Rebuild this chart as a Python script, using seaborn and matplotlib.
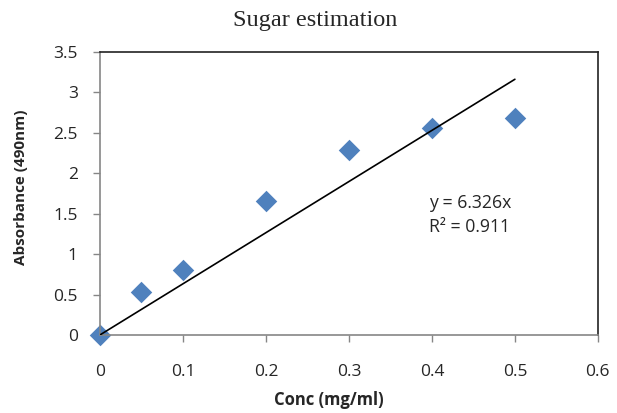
import matplotlib
matplotlib.use("Agg")
import matplotlib.pyplot as plt
import seaborn as sns
import numpy as np
import pandas as pd

# Standard curve readings
conc = [0.0, 0.05, 0.1, 0.2, 0.3, 0.4, 0.5]
absorbance = [0.0, 0.53, 0.80, 1.66, 2.29, 2.56, 2.68]
slope = 6.326
r_squared = 0.911
x_ticks = [0, 0.1, 0.2, 0.3, 0.4, 0.5, 0.6]
y_ticks = [0, 0.5, 1, 1.5, 2, 2.5, 3, 3.5]
y_tick_labels = ["0", "0.5", "1", "1.5", "2", "2.5", "3", "3.5"]

sns.set_theme(style="white")
plt.rcParams["font.family"] = ["Open Sans", "DejaVu Sans"]

fig = plt.figure(figsize=(6.17, 4.13), dpi=100)
ax = fig.add_axes([0.162, 0.189, 0.807, 0.685])

df = pd.DataFrame({"conc": conc, "abs": absorbance})
sns.scatterplot(data=df, x="conc", y="abs", marker="D", s=120, color="#4F81BD",
                edgecolor="#4F81BD", linewidth=0, ax=ax, zorder=2, clip_on=False)

# Linear trendline through the origin
fit_x = np.array([0.0, max(conc)])
sns.lineplot(x=fit_x, y=slope * fit_x, color="black", linewidth=1.2, ax=ax, zorder=3)

ax.set_xlim(0, 0.6)
ax.set_ylim(0, 3.5)
ax.set_xticks(x_ticks)
ax.set_xticklabels([f"{v:g}" for v in x_ticks])
ax.set_yticks(y_ticks)
ax.set_yticklabels(y_tick_labels)
ax.tick_params(axis="both", which="major", labelsize=12.5, length=5, width=1,
               color="#868686", direction="out", bottom=True, left=True)
ax.tick_params(axis="x", pad=16)
ax.tick_params(axis="y", pad=11)

for side in ("left", "bottom"):
    ax.spines[side].set_color("#868686")
    ax.spines[side].set_linewidth(1.2)
for side in ("top", "right"):
    ax.spines[side].set_color("#222222")
    ax.spines[side].set_linewidth(1.2)

ax.set_xlabel("Conc (mg/ml)", fontsize=12, fontweight="bold")
ax.set_ylabel("Absorbance (490nm)", fontsize=11, fontweight="bold")
ax.xaxis.set_label_coords(0.46, -0.23)
ax.xaxis.label.set_va("center")
ax.yaxis.set_label_coords(-0.159, 0.521)
ax.yaxis.label.set_va("center")

fig.text(0.511, 0.951, "Sugar estimation", ha="center", va="center", fontsize=17.5,
         family="Liberation Serif")

ax.text(0.397, 1.63, f"y = {slope}x", fontsize=12.7, va="center", ha="left")
ax.text(0.397, 1.335, f"R² = {r_squared}", fontsize=12.7, va="center", ha="left")

fig.savefig("out.png", dpi=100)
